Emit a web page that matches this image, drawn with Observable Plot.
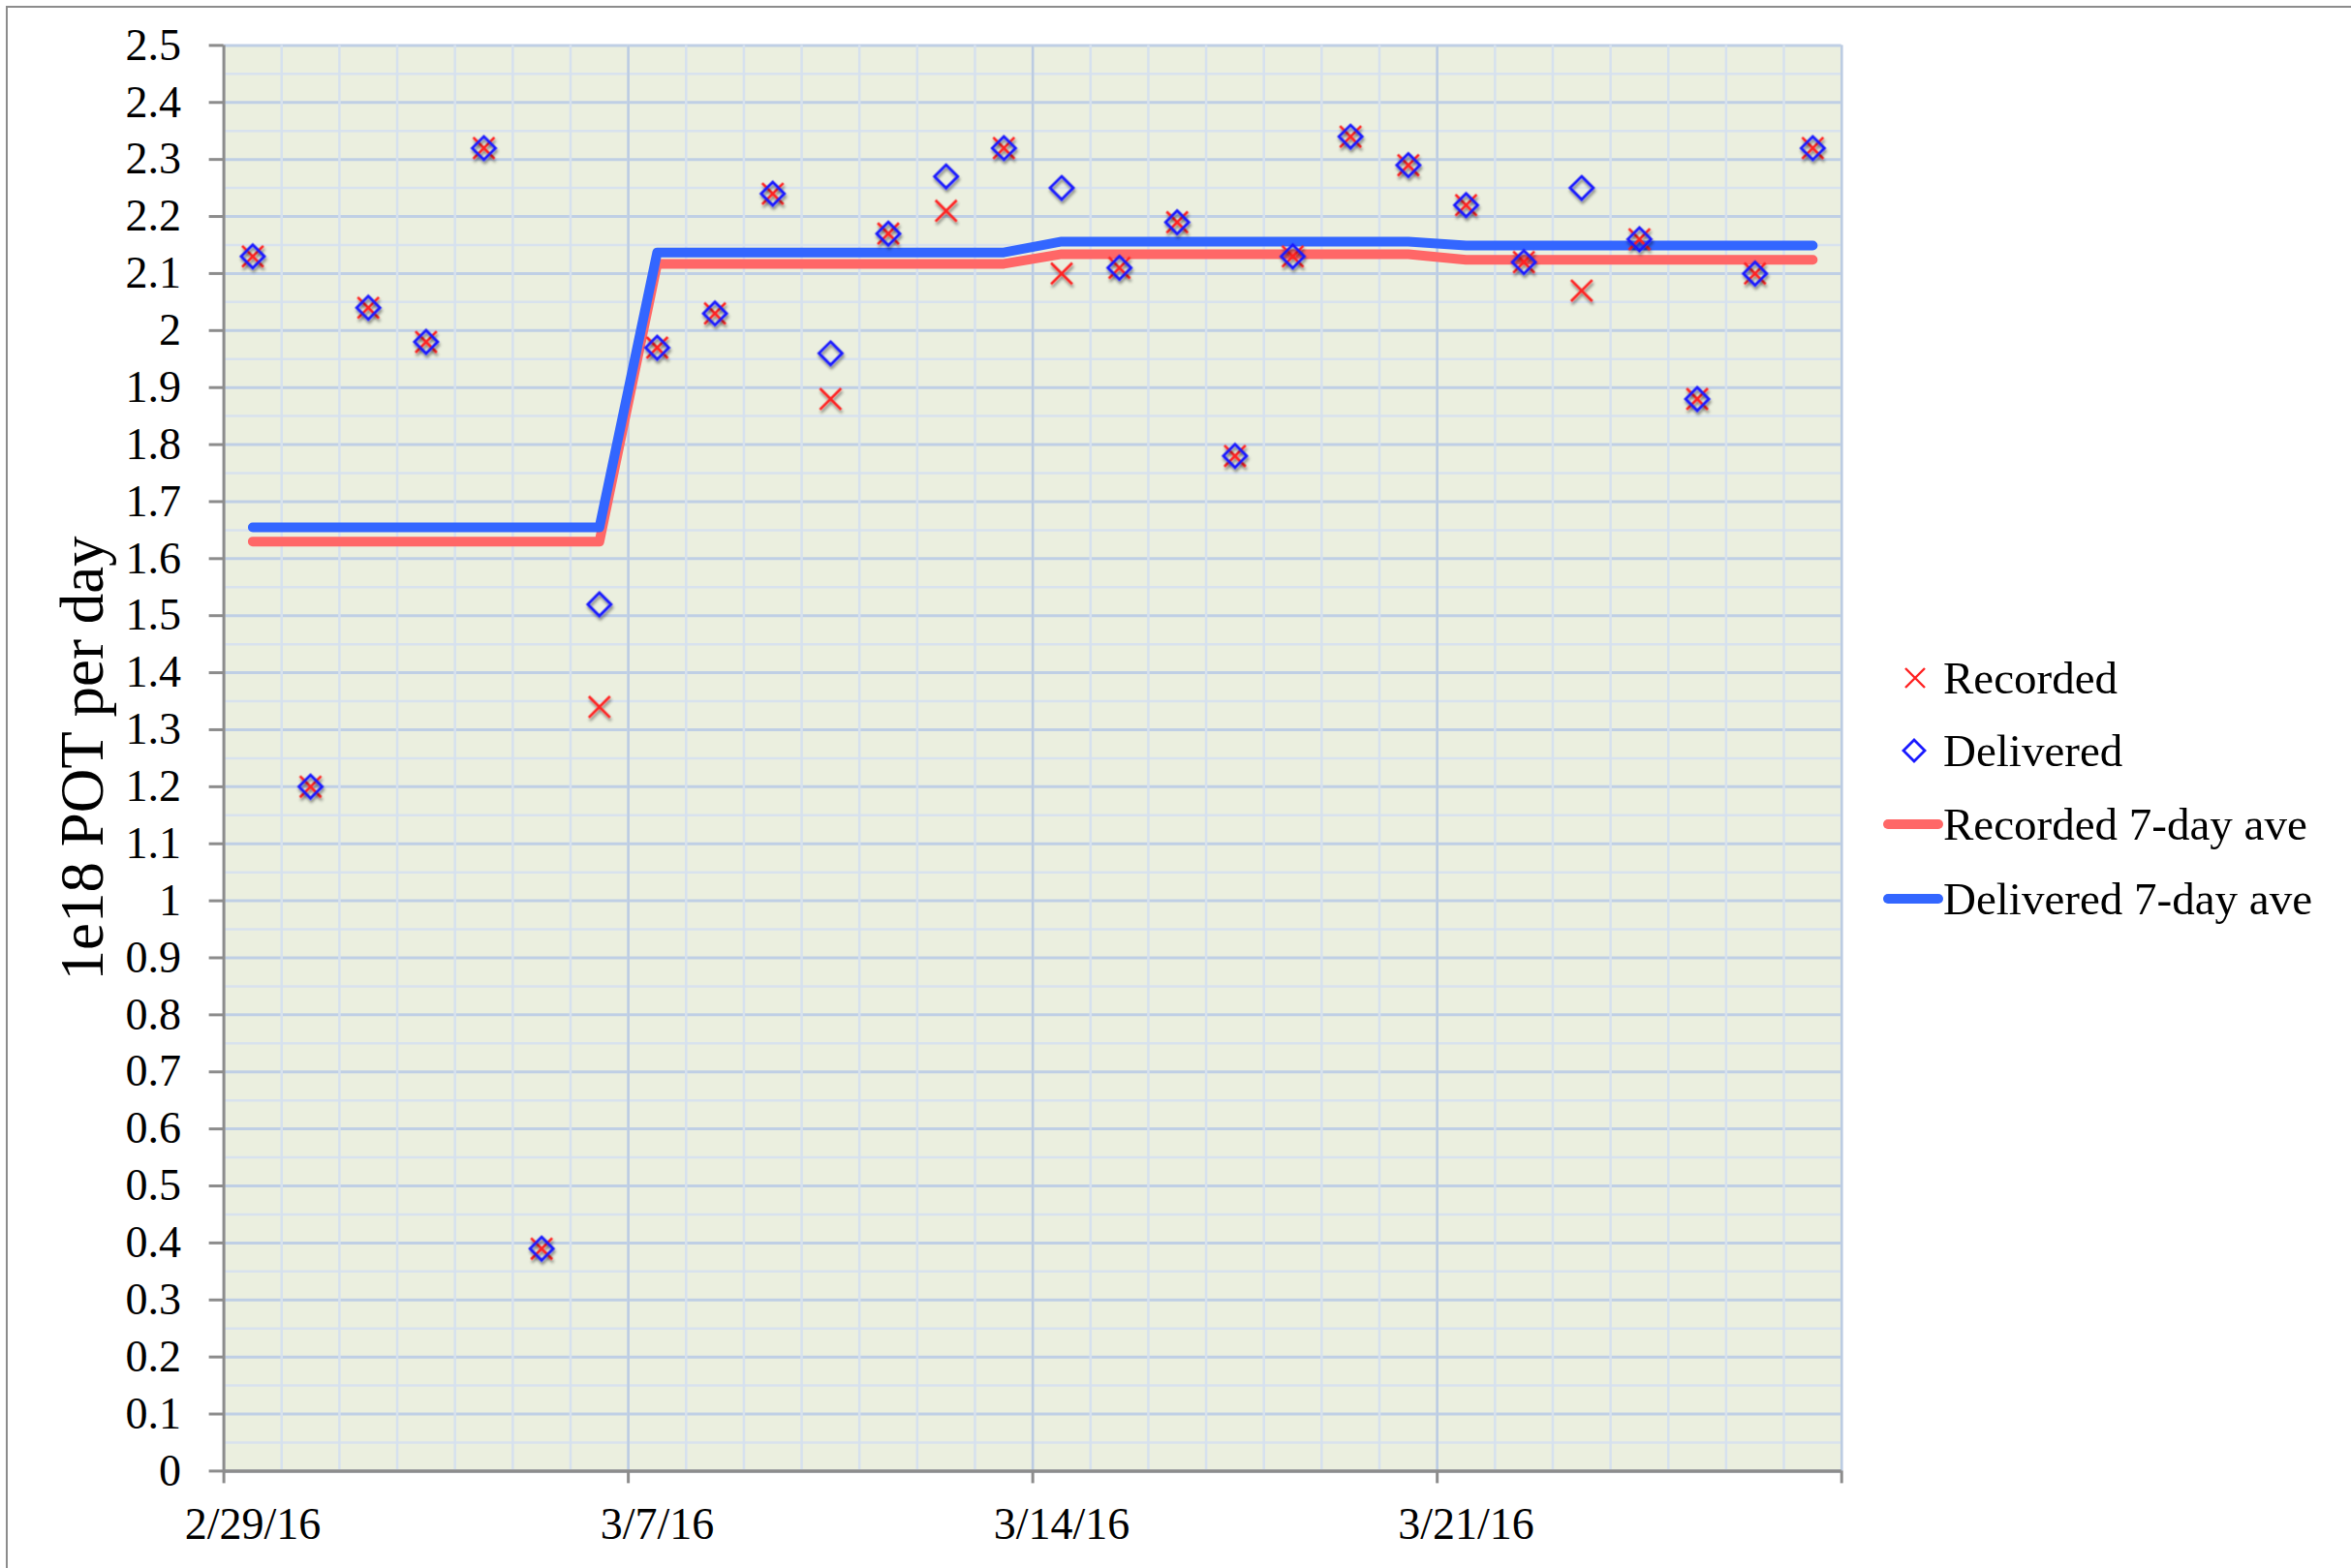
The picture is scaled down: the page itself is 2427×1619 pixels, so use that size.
<!DOCTYPE html>
<html>
<head>
<meta charset="utf-8">
<script src="https://cdn.jsdelivr.net/npm/d3@7"></script>
<script src="https://cdn.jsdelivr.net/npm/@observablehq/plot@0.6"></script>
<style>
  html, body { margin: 0; padding: 0; background: #fff; }
  #wrap { position: relative; width: 2427px; height: 1619px; overflow: hidden; background: #fff;
          font-family: "Liberation Serif", "Times New Roman", serif; }
  #border { position: absolute; left: 6px; top: 6px; width: 2440px; height: 1640px;
            border: 2px solid #8c8c8c; box-sizing: border-box; pointer-events: none; }
  #chart { position: absolute; left: 0; top: 0; }
  .lg-row { position: absolute; left: 1944px; height: 60px; display: flex; align-items: center;
            font-size: 47px; line-height: 60px; color: #000; white-space: nowrap; }
  .lg-row svg { display: block; }
</style>
</head>
<body>
<div id="wrap">
  <div id="chart"></div>
  <div id="border"></div>
</div>
<script>
// ---- data ----
const dates = [
  "2016-02-29","2016-03-01","2016-03-02","2016-03-03","2016-03-04","2016-03-05","2016-03-06",
  "2016-03-07","2016-03-08","2016-03-09","2016-03-10","2016-03-11","2016-03-12","2016-03-13",
  "2016-03-14","2016-03-15","2016-03-16","2016-03-17","2016-03-18","2016-03-19","2016-03-20",
  "2016-03-21","2016-03-22","2016-03-23","2016-03-24","2016-03-25","2016-03-26","2016-03-27"
];
const recorded = [2.13,1.20,2.04,1.98,2.32,0.39,1.34, 1.97,2.03,2.24,1.88,2.17,2.21,2.32,
                  2.10,2.11,2.19,1.78,2.13,2.34,2.29, 2.22,2.12,2.07,2.16,1.88,2.10,2.32];
const delivered = [2.13,1.20,2.04,1.98,2.32,0.39,1.52, 1.97,2.03,2.24,1.96,2.17,2.27,2.32,
                   2.25,2.11,2.19,1.78,2.13,2.34,2.29, 2.22,2.12,2.25,2.16,1.88,2.10,2.32];
const recordedAve = [1.63,1.63,1.63,1.63,1.63,1.63,1.63, 2.117,2.117,2.117,2.117,2.117,2.117,2.117,
                     2.134,2.134,2.134,2.134,2.134,2.134,2.134, 2.124,2.124,2.124,2.124,2.124,2.124,2.124];
const deliveredAve = [1.655,1.655,1.655,1.655,1.655,1.655,1.655, 2.137,2.137,2.137,2.137,2.137,2.137,2.137,
                      2.156,2.156,2.156,2.156,2.156,2.156,2.156, 2.149,2.149,2.149,2.149,2.149,2.149,2.149];
const xLabelDates = ["2016-02-29","2016-03-07","2016-03-14","2016-03-21"];
const xTickDates = ["2016-02-29","2016-03-07","2016-03-14","2016-03-21","2016-03-28"];
const yTicks = [0,0.1,0.2,0.3,0.4,0.5,0.6,0.7,0.8,0.9,1,1.1,1.2,1.3,1.4,1.5,1.6,1.7,1.8,1.9,2,2.1,2.2,2.3,2.4,2.5];
const yTitle = "1e18 POT per day";
const legendItems = [
  {label: "Recorded", kind: "times"},
  {label: "Delivered", kind: "diamond"},
  {label: "Recorded 7-day ave", kind: "redline"},
  {label: "Delivered 7-day ave", kind: "blueline"}
];

// ---- colours ----
const RED_MARK = "#ff2020", BLUE_MARK = "#1a1aff";
const RED_LINE = "#ff6767", BLUE_LINE = "#3366ff";

const noon = s => new Date(s + "T12:00:00Z");
const midnight = s => new Date(s + "T00:00:00Z");

const table = dates.map((d, i) => ({
  date: noon(d), rec: recorded[i], del: delivered[i], recAve: recordedAve[i], delAve: deliveredAve[i]
}));

const x0 = midnight("2016-02-29"), x1 = midnight("2016-03-28");
const allDays = d3.utcDay.range(x0, d3.utcDay.offset(x1, 1));
const weekDays = xTickDates.map(midnight);
const minorY = d3.range(1, 50, 2).map(i => i * 0.05);

const font = "'Liberation Serif', 'Times New Roman', serif";

const chart = Plot.plot({
  width: 2427,
  height: 1619,
  marginLeft: 230.6,
  marginRight: 526.3,
  marginTop: 46.4,
  marginBottom: 100.6,
  x: {type: "utc", domain: [x0, x1]},
  y: {domain: [0, 2.5]},
  style: {fontFamily: font, fontSize: "46px", color: "#000", background: "transparent", overflow: "visible"},
  marks: [
    Plot.frame({fill: "#ebefdf", stroke: null}),
    Plot.ruleY(minorY, {stroke: "#d8e2ee", strokeWidth: 2.5}),
    Plot.ruleY(yTicks, {stroke: "#bfcfe5", strokeWidth: 3}),
    Plot.ruleX(allDays, {stroke: "#d6e1ee", strokeWidth: 2.5}),
    Plot.ruleX(weekDays.slice(1), {stroke: "#bccce2", strokeWidth: 2.5}),
    // axis lines
    Plot.ruleX([x0], {stroke: "#8c8c8c", strokeWidth: 3}),
    Plot.ruleY([0], {stroke: "#8c8c8c", strokeWidth: 3.5}),
    Plot.axisY({
      ticks: yTicks, tickSize: 15, tickPadding: 29, stroke: "#8c8c8c", strokeWidth: 3,
      fill: "#000", fontSize: 46, label: null,
      tickFormat: d => String(Math.round(d * 10) / 10)
    }),
    Plot.axisX({
      ticks: weekDays, tickSize: 13, stroke: "#8c8c8c", strokeWidth: 3,
      tickFormat: () => "", label: null
    }),
    Plot.axisX({
      ticks: xLabelDates.map(noon), tickSize: 0, tickPadding: 37, fill: "#000", fontSize: 46,
      tickFormat: d3.utcFormat("%-m/%-d/%y"), label: null
    }),
    Plot.text([yTitle], {
      frameAnchor: "left", dx: -145, rotate: -90, fontSize: 63, fill: "#000",
      textAnchor: "middle", lineAnchor: "middle"
    }),
    // 7-day averages
    Plot.line(table, {x: "date", y: "recAve", stroke: RED_LINE, strokeWidth: 10,
      strokeLinecap: "round", strokeLinejoin: "round"}),
    Plot.line(table, {x: "date", y: "delAve", stroke: BLUE_LINE, strokeWidth: 10,
      strokeLinecap: "round", strokeLinejoin: "round"}),
    // daily markers
    Plot.dot(table, {x: "date", y: "rec", symbol: "times", r: 10, stroke: RED_MARK, strokeWidth: 2.6}),
    Plot.dot(table, {x: "date", y: "del", symbol: "diamond2", r: 10.8, stroke: BLUE_MARK, strokeWidth: 2.8, fill: "none"})
  ]
});

// marker drop shadow (as in the reference)
const NS = "http://www.w3.org/2000/svg";
const defs = document.createElementNS(NS, "defs");
defs.innerHTML = `<filter id="mshadow" x="-60%" y="-60%" width="220%" height="220%">
  <feDropShadow dx="1" dy="3" stdDeviation="1.6" flood-color="#000" flood-opacity="0.45"/></filter>`;
chart.insertBefore(defs, chart.firstChild);
chart.querySelectorAll('g[aria-label="dot"]').forEach(g => g.setAttribute("filter", "url(#mshadow)"));
document.getElementById("chart").appendChild(chart);

// ---- legend ----
const wrap = document.getElementById("wrap");
const rowCenters = [700, 775, 851, 928];
legendItems.forEach((item, i) => {
  const row = document.createElement("div");
  row.className = "lg-row";
  row.style.top = (rowCenters[i] - 30) + "px";
  let sw = "";
  if (item.kind === "times") {
    sw = `<path d="M23,20L43,40M43,20L23,40" stroke="${RED_MARK}" stroke-width="2.4" fill="none"/>`;
  } else if (item.kind === "diamond") {
    sw = `<path d="M32,19L43,30L32,41L21,30Z" stroke="${BLUE_MARK}" stroke-width="2.8" fill="none"/>`;
  } else {
    const c = item.kind === "redline" ? RED_LINE : BLUE_LINE;
    sw = `<line x1="5" y1="30" x2="57" y2="30" stroke="${c}" stroke-width="10" stroke-linecap="round"/>`;
  }
  row.innerHTML = `<svg width="62" height="60" viewBox="0 0 62 60">${sw}</svg><span>${item.label}</span>`;
  wrap.appendChild(row);
});
</script>
</body>
</html>
